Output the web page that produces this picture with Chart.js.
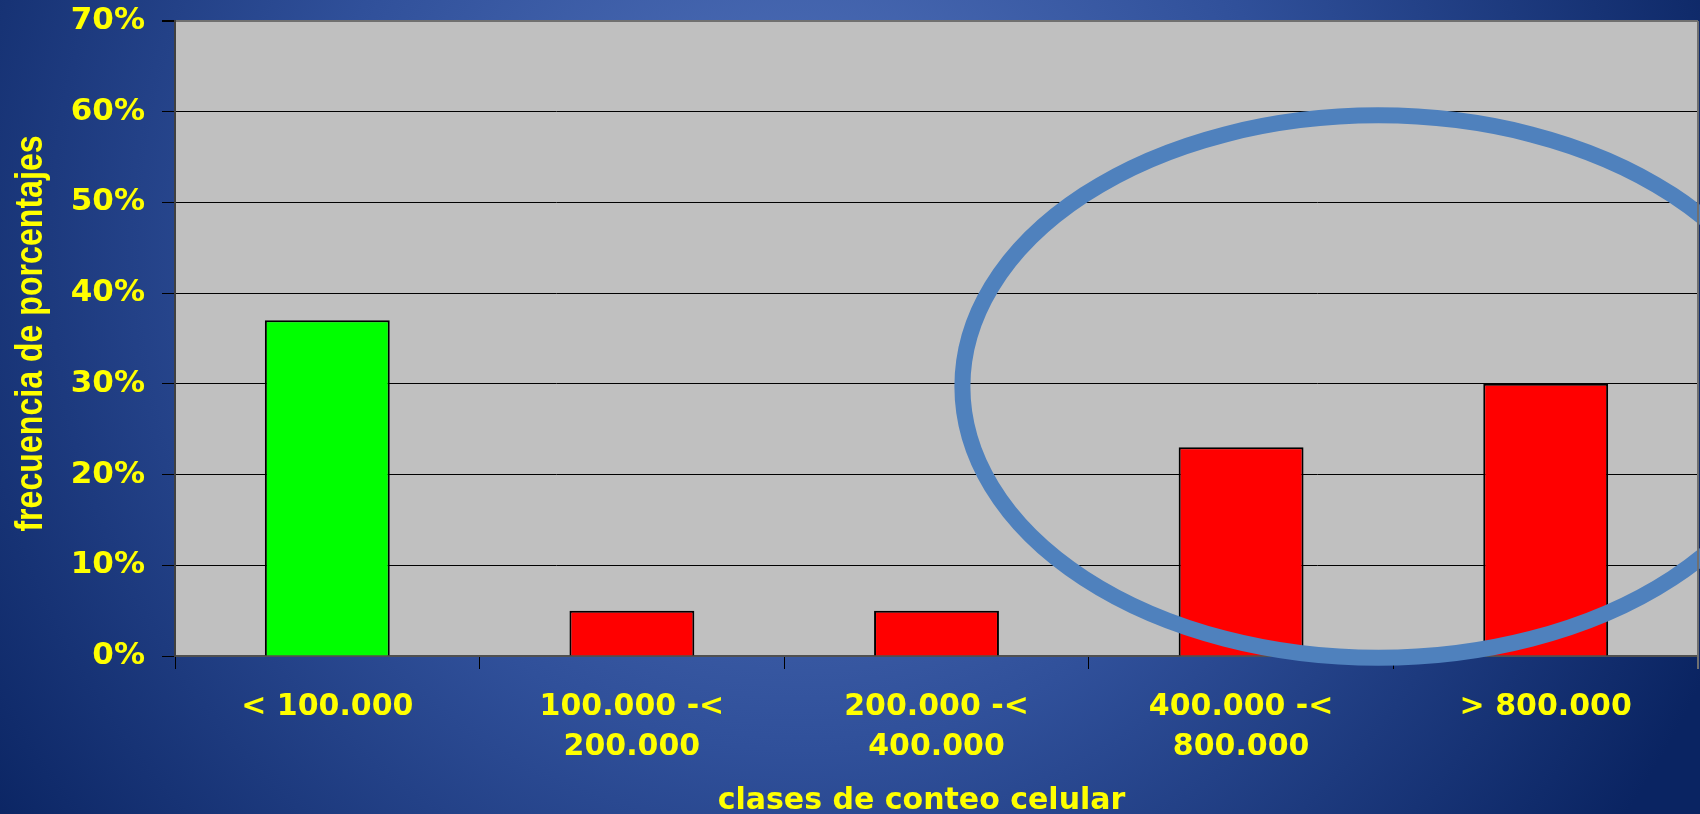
<!DOCTYPE html>
<html lang="es">
<head>
<meta charset="utf-8">
<title>clases de conteo celular</title>
<script src="https://cdn.jsdelivr.net/npm/chart.js@4/dist/chart.umd.min.js"></script>
<style>
  html, body { margin:0; padding:0; background:#0a2462; }
  #wrap { width:1700px; height:814px; }
</style>
</head>
<body>
<div id="wrap"><canvas id="chart" width="1700" height="814"></canvas></div>
<script>
/* ---------- Data ---------- */
const categories = [['< 100.000'], ['100.000 -<', '200.000'], ['200.000 -<', '400.000'], ['400.000 -<', '800.000'], ['> 800.000']];
const frecuencia = [37, 5, 5, 23, 30];
const barColors = ['#00ff00', '#ff0000', '#ff0000', '#ff0000', '#ff0000'];
const yTicks = [0, 10, 20, 30, 40, 50, 60, 70];
const yTitle = 'frecuencia de porcentajes';
const xTitle = 'clases de conteo celular';

const YELLOW = '#ffff00';
const DEJAVU = '"DejaVu Sans", Verdana, sans-serif';

/* ---------- Plugins ---------- */
// slide background + grey plot area
const backdrop = {
  id: 'backdrop',
  beforeDraw(chart){
    const { ctx, width, height, chartArea: a } = chart;
    ctx.save();
    const g = ctx.createRadialGradient(800, 250, 0, 800, 250, 1000);
    g.addColorStop(0, '#5677c0');
    g.addColorStop(0.5, '#30509a');
    g.addColorStop(1, '#0a2462');
    ctx.fillStyle = g;
    ctx.fillRect(0, 0, width, height);
    ctx.fillStyle = '#c0c0c0';
    ctx.fillRect(a.left, a.top, a.right - a.left, a.bottom - a.top);
    ctx.restore();
  },
  afterDraw(chart){
    const { ctx, chartArea: a } = chart;
    ctx.save();
    ctx.strokeStyle = '#707070';
    ctx.lineWidth = 2;
    ctx.beginPath();
    ctx.moveTo(a.right, a.top);
    ctx.lineTo(a.right, a.bottom + 13);
    ctx.stroke();

    ctx.fillStyle = YELLOW;
    ctx.textAlign = 'center';
    ctx.textBaseline = 'middle';

    // x axis title (sits a little left of the axis centre)
    ctx.font = `bold 30px ${DEJAVU}`;
    ctx.fillText(xTitle, (a.left + a.right) / 2 - 15, 801);

    // condensed vertical axis title
    ctx.translate(32, (a.top + a.bottom) / 2 - 5);
    ctx.rotate(-Math.PI / 2);
    ctx.scale(0.845, 1);
    ctx.font = 'bold 38px "Liberation Sans", Arial, sans-serif';
    ctx.fillText(yTitle, 0, 0);
    ctx.restore();
  }
};

// the blue ring marking the high classes (placed on the scales)
const ring = {
  id: 'ring',
  afterDatasetsDraw(chart){
    const { ctx, scales: { x, y } } = chart;
    const step = x.getPixelForValue(1) - x.getPixelForValue(0);
    const cx = x.getPixelForValue(3) + 0.45 * step;
    const cy = y.getPixelForValue(29.7);
    const rx = 1.365 * step;
    const ry = y.getPixelForValue(0) - y.getPixelForValue(29.9);
    ctx.save();
    ctx.strokeStyle = '#4f81bd';
    ctx.lineWidth = 16;
    ctx.beginPath();
    ctx.ellipse(cx, cy, rx, ry, 0, 0, Math.PI * 2);
    ctx.stroke();
    ctx.restore();
  }
};

/* ---------- Chart ---------- */
Chart.defaults.font.family = DEJAVU;

new Chart(document.getElementById('chart'), {
  type: 'bar',
  data: {
    labels: categories,
    datasets: [{
      data: frecuencia,
      backgroundColor: barColors,
      borderColor: '#000',
      borderWidth: 2,
      categoryPercentage: 1,
      barPercentage: 0.41
    }]
  },
  options: {
    responsive: false,
    animation: false,
    layout: { padding: { top: 21, right: 2, left: 0, bottom: 0 } },
    plugins: { legend: { display:false }, tooltip: { enabled:false } },
    scales: {
      x: {
        afterFit: (s) => { s.height = 158; },
        grid: { drawOnChartArea:false, drawTicks:true, tickLength:13, color:'#000', offset:true },
        border: { color:'#505050', width:2 },
        ticks: {
          color: YELLOW,
          padding: 18,
          maxRotation: 0,
          autoSkip: false,
          font: { size:30, weight:'bold', lineHeight:'40px' }
        },
        title: { display:false }
      },
      y: {
        min: 0,
        max: 70,
        afterFit: (s) => { s.width = 175; s.paddingTop = 0; s.paddingBottom = 0; },
        afterBuildTicks: (s) => { s.ticks = yTicks.map(v => ({ value: v })); },
        grid: {
          color: (c) => c.tick && c.tick.value === 70 ? '#707070' : '#000',
          lineWidth: (c) => c.tick && c.tick.value === 70 ? 2 : 1,
          tickColor: '#000',
          tickLength: 13
        },
        border: { color:'#404040', width:2 },
        ticks: {
          color: YELLOW,
          padding: 17,
          callback: (v) => `${v}%`,
          font: { size:31, weight:'bold' }
        },
        title: { display:false }
      }
    }
  },
  plugins: [backdrop, ring]
});
</script>
</body>
</html>
